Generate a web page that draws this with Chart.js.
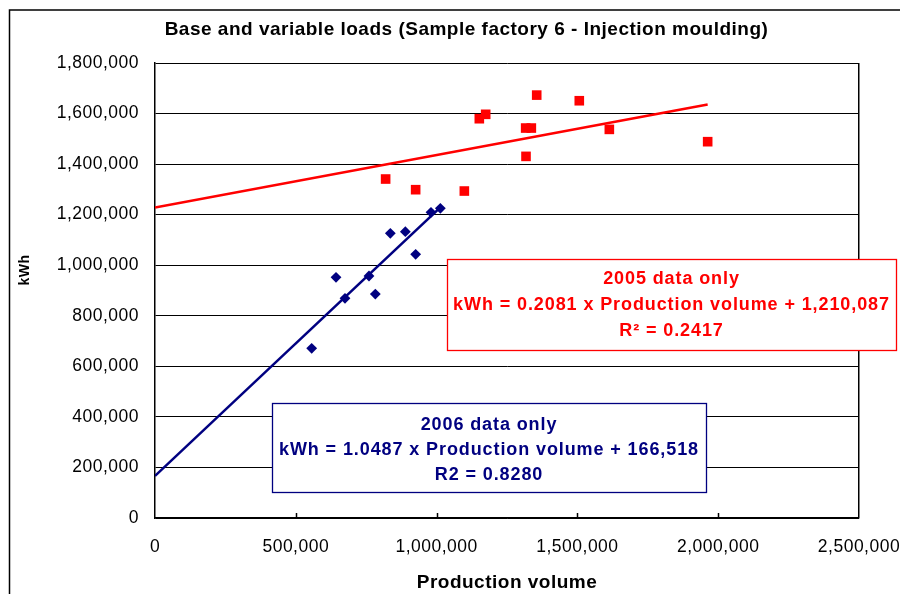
<!DOCTYPE html>
<html><head><meta charset="utf-8">
<script src="https://cdn.jsdelivr.net/npm/chart.js@4.4.1/dist/chart.umd.min.js"></script>
<style>html,body{margin:0;padding:0;background:#fff;overflow:hidden}</style>
</head><body>
<div style="width:900px;height:594px"><canvas id="c" width="900" height="594"></canvas></div>
<script>
// ---- data ----
const chartTitle = 'Base and variable loads (Sample factory 6 - Injection moulding)';
const xAxisTitle = 'Production volume';
const yAxisTitle = 'kWh';
const xTicks = [0, 500000, 1000000, 1500000, 2000000, 2500000];
const yTicks = [0, 200000, 400000, 600000, 800000, 1000000, 1200000, 1400000, 1600000, 1800000];

// 2005 data (red squares)
const prod2005 = [819000, 925600, 1098500, 1151700, 1174300, 1316300, 1336400, 1317500, 1355500, 1506700, 1613400, 1962600];
const kwh2005  = [1341000, 1298800, 1293500, 1579600, 1597000, 1542700, 1542700, 1430600, 1673000, 1650700, 1537400, 1488700];
// 2006 data (blue diamonds)
const prod2006 = [556400, 642800, 674700, 759900, 782400, 835700, 889000, 925600, 980100, 1013300];
const kwh2006  = [671200, 952100, 869000, 957300, 886000, 1126100, 1132600, 1043000, 1209200, 1225000];

// trend line end points as drawn
const trend2005X = [0, 1962600];
const trend2005Y = [1228000, 1636000];
const trend2006X = [0, 1013300];
const trend2006Y = [166500, 1229000];

const box2005Lines = ['2005 data only', 'kWh = 0.2081 x Production volume + 1,210,087', 'R\u00B2 = 0.2417'];
const box2006Lines = ['2006 data only', 'kWh = 1.0487 x Production volume + 166,518', 'R2 = 0.8280'];

const RED = '#FF0000';
const NAVY = '#000080';
const FONT = '"Liberation Sans", Arial, Helvetica, sans-serif';

const pts = (xs, ys) => xs.map((x, i) => ({x: x, y: ys[i]}));
const fmt = v => String(v).replace(/\B(?=(\d{3})+(?!\d))/g, ',');

function drawBox(ctx, r, lines, color, baselines) {
  ctx.save();
  ctx.fillStyle = '#fff';
  ctx.fillRect(r[0], r[1], r[2], r[3]);
  ctx.strokeStyle = color;
  ctx.lineWidth = 1.3;
  ctx.strokeRect(r[0] + 0.5, r[1] + 0.5, r[2], r[3]);
  ctx.fillStyle = color;
  ctx.font = 'bold 18px ' + FONT;
  try { ctx.letterSpacing = '0.9px'; } catch (e) {}
  ctx.textAlign = 'center';
  ctx.textBaseline = 'alphabetic';
  const cx = r[0] + r[2] / 2;
  lines.forEach((t, i) => ctx.fillText(t, cx, baselines[i]));
  ctx.restore();
}

const decor = {
  id: 'decor',
  afterLayout(chart) {
    // centre the title the way the reference does (between x=74 and the plot's right edge)
    const tb = chart.titleBlock;
    if (tb) { tb.left = 74; tb.right = chart.chartArea.right; tb.width = tb.right - tb.left; }
  },
  beforeDraw(chart) {
    const ctx = chart.ctx;
    ctx.save();
    ctx.fillStyle = '#fff';
    ctx.fillRect(0, 0, chart.width, chart.height);
    ctx.restore();
    try { ctx.letterSpacing = '0.5px'; } catch (e) {}
  },
  afterDraw(chart) {
    const ctx = chart.ctx;
    const xs = chart.scales.x;
    const a = chart.chartArea;
    ctx.save();
    // inside tick marks on the x axis
    ctx.strokeStyle = '#000';
    ctx.lineWidth = 1.5;
    xTicks.forEach(v => {
      if (v === 0 || v === 2500000) return;
      const px = Math.round(xs.getPixelForValue(v)) + 0.5;
      ctx.beginPath();
      ctx.moveTo(px, a.bottom);
      ctx.lineTo(px, a.bottom - 5);
      ctx.stroke();
    });
    // outer frame
    ctx.lineWidth = 1.5;
    ctx.strokeRect(9.5, 10, 900, 600);
    // y axis title
    ctx.fillStyle = '#000';
    ctx.font = 'bold 14px ' + FONT;
    ctx.textAlign = 'center';
    ctx.textBaseline = 'middle';
    ctx.translate(25, 270);
    ctx.rotate(-Math.PI / 2);
    ctx.fillText(yAxisTitle, 0, 0);
    ctx.restore();
    // equation boxes
    drawBox(ctx, [447, 259, 449, 91], box2005Lines, RED, [284, 310, 336]);
    drawBox(ctx, [272, 403, 434, 89], box2006Lines, NAVY, [430, 455, 480]);
  }
};

new Chart(document.getElementById('c'), {
  type: 'scatter',
  data: {
    datasets: [
      { label: '2005', data: pts(prod2005, kwh2005), pointStyle: 'rect', pointRadius: 6.8, pointHoverRadius: 6.8,
        backgroundColor: RED, borderColor: RED, borderWidth: 0, showLine: false },
      { label: '2006', data: pts(prod2006, kwh2006), pointStyle: 'rectRot', pointRadius: 5.4, pointHoverRadius: 5.4,
        backgroundColor: NAVY, borderColor: NAVY, borderWidth: 0, showLine: false },
      { label: '2005 trend', data: pts(trend2005X, trend2005Y), showLine: true, pointRadius: 0,
        borderColor: RED, borderWidth: 2.6, fill: false },
      { label: '2006 trend', data: pts(trend2006X, trend2006Y), showLine: true, pointRadius: 0,
        borderColor: NAVY, borderWidth: 2.6, fill: false }
    ]
  },
  options: {
    responsive: false,
    animation: false,
    devicePixelRatio: 1,
    layout: { padding: { left: 10, right: 41, top: 0, bottom: 0 } },
    plugins: {
      legend: { display: false },
      tooltip: { enabled: false },
      title: {
        display: true, text: chartTitle, color: '#000',
        font: { family: FONT, size: 19, weight: 'bold', lineHeight: 1.2 },
        padding: { top: 18, bottom: 22.2 }
      }
    },
    scales: {
      x: {
        type: 'linear', min: 0, max: 2500000,
        afterBuildTicks: s => { s.ticks = xTicks.map(v => ({value: v})); },
        afterFit: s => { s.height = 76; s.paddingLeft = 0; s.paddingRight = 0; },
        ticks: { color: '#000', font: { family: FONT, size: 17.5 }, padding: 19, maxRotation: 0, autoSkip: false,
                 callback: v => fmt(v) },
        grid: { drawTicks: false, lineWidth: 1.5,
                color: c => (c.tick && c.tick.value === 2500000) ? '#000' : 'rgba(0,0,0,0)' },
        border: { display: true, color: '#000', width: 1.5 },
        title: { display: true, text: xAxisTitle, color: '#000',
                 font: { family: FONT, size: 19, weight: 'bold', lineHeight: 1.2 }, padding: { top: 0, bottom: 0 } }
      },
      y: {
        type: 'linear', min: 0, max: 1800000,
        afterBuildTicks: s => { s.ticks = yTicks.map(v => ({value: v})); },
        afterFit: s => { s.width = 145; s.paddingTop = 0; s.paddingBottom = 0; },
        ticks: { color: '#000', font: { family: FONT, size: 17.5 }, padding: 16, autoSkip: false,
                 callback: v => fmt(v) },
        grid: { drawTicks: false, color: '#000', lineWidth: 1 },
        border: { display: true, color: '#000', width: 1.5 },
        title: { display: false, text: yAxisTitle }
      }
    }
  },
  plugins: [decor]
});
</script>
</body></html>
